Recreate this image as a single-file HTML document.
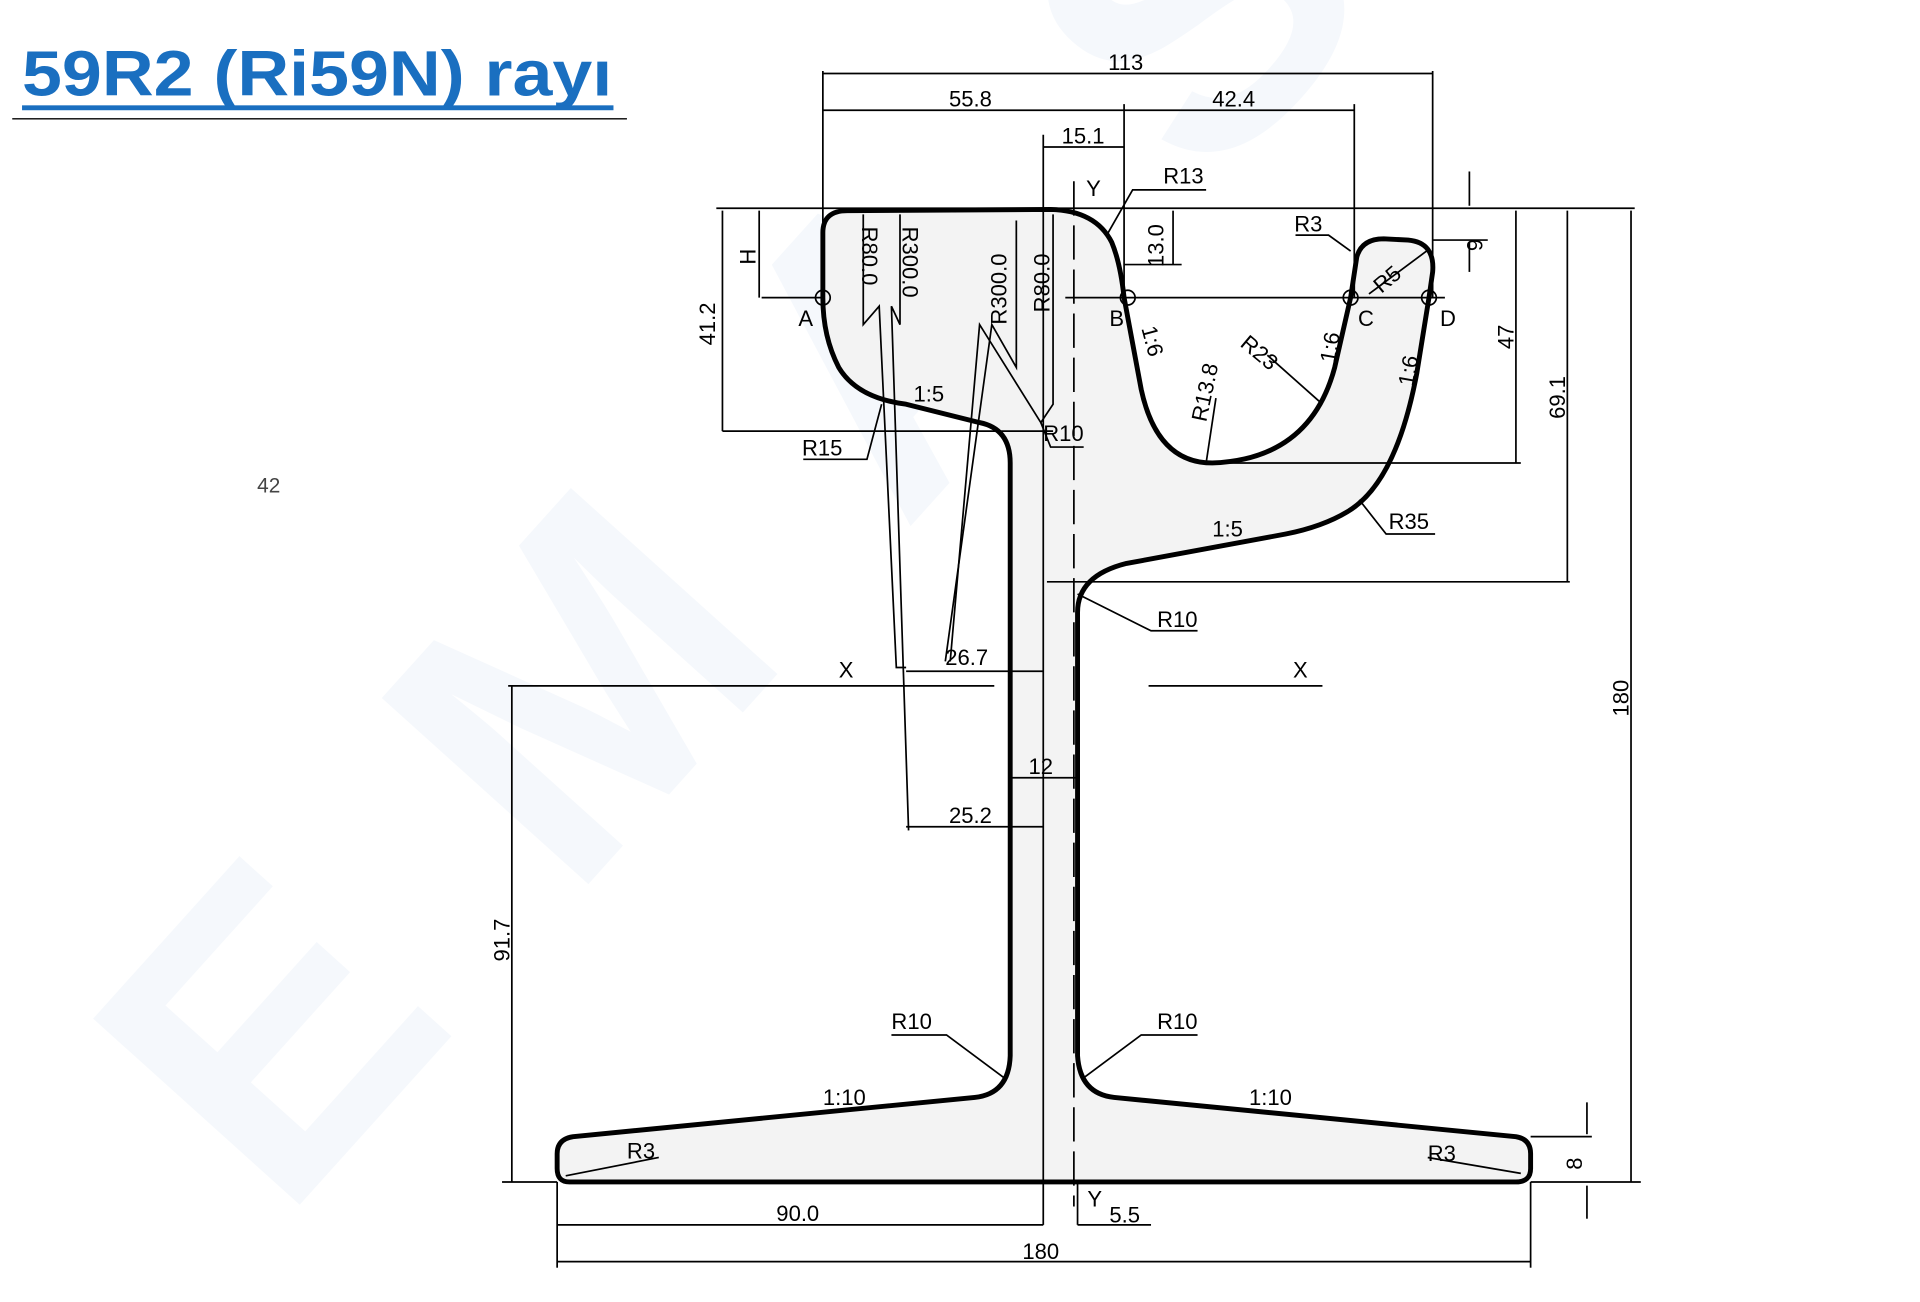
<!DOCTYPE html>
<html><head><meta charset="utf-8"><style>html,body{margin:0;padding:0;background:#fff}svg{display:block}</style></head><body>
<svg width="1920" height="1302" viewBox="0 0 1568 1063" preserveAspectRatio="none" xmlns="http://www.w3.org/2000/svg" font-family="Liberation Sans, sans-serif">
<rect width="1568" height="1063" fill="#fff"/>
<!-- watermark -->
<text x="0" y="0" transform="translate(230,1000) rotate(-48)" font-size="330" font-weight="bold" fill="#f5f8fc" textLength="1350">EMAS</text>
<!-- title -->
<text x="18" y="78" font-size="52" font-weight="bold" fill="#1a6fc0" textLength="482" lengthAdjust="spacingAndGlyphs">59R2 (Ri59N) rayı</text>
<rect x="18" y="86" width="483" height="4" fill="#1a6fc0"/>
<line x1="10" y1="97" x2="512" y2="97" stroke="#000" stroke-width="1.2"/>
<text x="210" y="402" font-size="17" fill="#444">42</text>
<!-- rail body -->
<path d="M672,243 L672,190 Q672,172 692,172 L858,171 Q895,172 908,198 Q915,215 918,243 L932,318 Q945,378 990,378 Q1070,375 1090,300 L1103,243 L1108,210 Q1112,195 1130,195 L1150,196 Q1172,198 1170,222 L1167,243 L1157,305 Q1140,395 1100,418 Q1080,430 1050,436 L920,460 Q880,470 880,500 L880,862 Q882,893 910,896 L1238,928 Q1250,930 1250,942 L1250,954 Q1250,965 1238,965 L465,965 Q455,965 455,954 L455,942 Q455,930 468,928 L796,896 Q824,893 825,862 L825,378 Q825,350 800,345 L740,330 Q700,325 685,300 Q672,275 672,243 Z" fill="#f3f3f3" stroke="#000" stroke-width="4" stroke-linejoin="round"/>
<g stroke="#000" stroke-width="1.4" fill="none">
<line x1="877" y1="148" x2="877" y2="985" stroke-dasharray="28,8"/>
<line x1="852" y1="110" x2="852" y2="1000"/>
<line x1="415" y1="560" x2="812" y2="560"/>
<line x1="938" y1="560" x2="1080" y2="560"/>
<line x1="672" y1="58" x2="672" y2="243"/>
<line x1="1170" y1="58" x2="1170" y2="243"/>
<line x1="672" y1="60" x2="1170" y2="60"/>
<line x1="672" y1="90" x2="1106" y2="90"/>
<line x1="918" y1="85" x2="918" y2="243"/>
<line x1="1106" y1="85" x2="1106" y2="243"/>
<line x1="852" y1="120" x2="918" y2="120"/>
<line x1="585" y1="170" x2="1335" y2="170"/>
<line x1="622" y1="243" x2="672" y2="243"/>
<line x1="870" y1="243" x2="1180" y2="243"/>
<line x1="620" y1="172" x2="620" y2="243"/>
<line x1="590" y1="172" x2="590" y2="352"/>
<line x1="590" y1="352" x2="860" y2="352"/>
<line x1="918" y1="216" x2="965" y2="216"/>
<line x1="958" y1="172" x2="958" y2="216"/>
<line x1="1200" y1="140" x2="1200" y2="168"/>
<line x1="1200" y1="198" x2="1200" y2="222"/>
<line x1="1170" y1="196" x2="1215" y2="196"/>
<line x1="1238" y1="172" x2="1238" y2="378"/>
<line x1="985" y1="378" x2="1242" y2="378"/>
<line x1="1280" y1="172" x2="1280" y2="475"/>
<line x1="855" y1="475" x2="1282" y2="475"/>
<line x1="1332" y1="172" x2="1332" y2="965"/>
<line x1="1250" y1="965" x2="1340" y2="965"/>
<line x1="1250" y1="928" x2="1300" y2="928"/>
<line x1="1296" y1="900" x2="1296" y2="926"/>
<line x1="1296" y1="968" x2="1296" y2="995"/>
<line x1="418" y1="560" x2="418" y2="965"/>
<line x1="410" y1="965" x2="455" y2="965"/>
<line x1="455" y1="965" x2="455" y2="1035"/>
<line x1="1250" y1="965" x2="1250" y2="1035"/>
<line x1="455" y1="1000" x2="852" y2="1000"/>
<line x1="455" y1="1030" x2="1250" y2="1030"/>
<line x1="880" y1="1000" x2="940" y2="1000"/>
<line x1="880" y1="965" x2="880" y2="1000"/>
<line x1="740" y1="548" x2="852" y2="548"/>
<line x1="740" y1="675" x2="852" y2="675"/>
<line x1="825" y1="635" x2="880" y2="635"/>
<polyline points="905,190 925,155 985,155"/>
<polyline points="1058,192 1085,192 1103,205"/>
<line x1="1118" y1="240" x2="1165" y2="205"/>
<line x1="985" y1="378" x2="993" y2="325"/>
<line x1="1080" y1="330" x2="1035" y2="290"/>
<polyline points="1110,408 1132,436 1172,436"/>
<polyline points="720,330 708,375 656,375"/>
<polyline points="850,345 858,365 885,365"/>
<polyline points="880,485 940,515 978,515"/>
<polyline points="820,880 773,845 728,845"/>
<polyline points="885,880 932,845 978,845"/>
<line x1="462" y1="960" x2="538" y2="945"/>
<line x1="1242" y1="958" x2="1166" y2="945"/>
<polyline points="705,175 705,265 718,250 732,545 740,545"/>
<polyline points="735,175 735,265 728,250 742,678"/>
<polyline points="830,180 830,300 810,265 772,540"/>
<polyline points="860,175 860,330 850,345 800,265 776,540"/>
</g>
<g fill="none" stroke="#000" stroke-width="1.4">
<circle cx="672" cy="243" r="6"/><circle cx="921" cy="243" r="6"/><circle cx="1103" cy="243" r="6"/><circle cx="1167" cy="243" r="6"/>
</g>
<g font-size="18" fill="#000">
<text x="905" y="57">113</text>
<text x="775" y="87">55.8</text>
<text x="990" y="87">42.4</text>
<text x="867" y="117">15.1</text>
<text x="887" y="160">Y</text>
<text x="950" y="150">R13</text>
<text x="1057" y="189">R3</text>
<text x="652" y="266">A</text>
<text x="906" y="266">B</text>
<text x="1109" y="266">C</text>
<text x="1176" y="266">D</text>
<text x="746" y="328">1:5</text>
<text x="655" y="372">R15</text>
<text x="852" y="360">R10</text>
<text x="990" y="438">1:5</text>
<text x="1134" y="432">R35</text>
<text x="945" y="512">R10</text>
<text x="685" y="553">X</text>
<text x="1056" y="553">X</text>
<text x="772" y="543">26.7</text>
<text x="840" y="632">12</text>
<text x="775" y="672">25.2</text>
<text x="728" y="840">R10</text>
<text x="945" y="840">R10</text>
<text x="672" y="902">1:10</text>
<text x="1020" y="902">1:10</text>
<text x="512" y="946">R3</text>
<text x="1166" y="948">R3</text>
<text x="634" y="997">90.0</text>
<text x="888" y="985">Y</text>
<text x="906" y="998">5.5</text>
<text x="835" y="1028">180</text>
<text transform="translate(584,282) rotate(-90)">41.2</text>
<text transform="translate(617,216) rotate(-90)">H</text>
<text transform="translate(1236,285) rotate(-90)">47</text>
<text transform="translate(1278,342) rotate(-90)">69.1</text>
<text transform="translate(1330,585) rotate(-90)">180</text>
<text transform="translate(416,785) rotate(-90)">91.7</text>
<text transform="translate(1292,955) rotate(-90)">8</text>
<text transform="translate(1198,195) rotate(90)">6</text>
<text transform="translate(950,218) rotate(-90)">13.0</text>
<text transform="translate(704,185) rotate(90)">R80.0</text>
<text transform="translate(737,185) rotate(90)">R300.0</text>
<text transform="translate(822,265) rotate(-90)">R300.0</text>
<text transform="translate(857,255) rotate(-90)">R80.0</text>
<text transform="translate(932,268) rotate(75)">1:6</text>
<text transform="translate(1090,297) rotate(-80)">1:6</text>
<text transform="translate(1154,316) rotate(-80)">1:6</text>
<text transform="translate(1128,240) rotate(-40)">R5</text>
<text transform="translate(1012,282) rotate(40)">R23</text>
<text transform="translate(985,345) rotate(-78)">R13.8</text>
</g>
</svg>
</body></html>
